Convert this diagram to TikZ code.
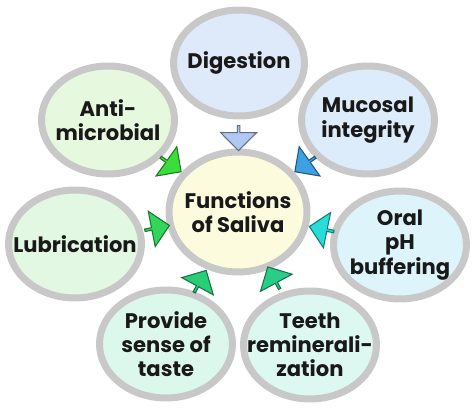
\documentclass[tikz,border=0pt]{standalone}
\usepackage{fontspec}
\setmainfont{Poppins}
\usepackage{xcolor}
\usetikzlibrary{shapes.geometric, shapes.arrows}
\definecolor{ringgray}{RGB}{200, 200, 200}
\definecolor{digestfill}{RGB}{222, 233, 250}
\definecolor{centerfill}{RGB}{253, 251, 222}
\definecolor{antifill}{RGB}{230, 248, 222}
\definecolor{mucosafill}{RGB}{220, 236, 250}
\definecolor{lubefill}{RGB}{226, 248, 226}
\definecolor{oralfill}{RGB}{220, 244, 250}
\definecolor{tastefill}{RGB}{220, 248, 236}
\definecolor{teethfill}{RGB}{220, 248, 240}
\definecolor{digestarrow}{RGB}{176, 200, 242}
\definecolor{antiarrow}{RGB}{60, 220, 60}
\definecolor{mucosaarrow}{RGB}{60, 160, 225}
\definecolor{lubearrow}{RGB}{50, 215, 90}
\definecolor{oralarrow}{RGB}{40, 220, 215}
\definecolor{tastearrow}{RGB}{40, 205, 120}
\definecolor{teetharrow}{RGB}{40, 205, 135}

\begin{document}
\begin{tikzpicture}[
  x=0.02cm, y=-0.02cm,
  bubbletext/.style={
    font=\fontsize{12}{13.8}\selectfont\bfseries,
    text=black!90,
    align=center,
    inner sep=0pt,
  },
  bubble/.style={
    ellipse,
    draw=ringgray,
    line width=0.14cm,
    minimum width=2.66cm,
    minimum height=2.16cm,
    inner sep=0pt,
    label={[bubbletext]center:#1},
  },
  flowarrow/.style={
    single arrow,
    draw=#1!55!black,
    fill=#1,
    line width=0.6pt,
    minimum height=0.5cm,
    minimum width=0.72cm,
    single arrow head extend=0.14cm,
    inner sep=0pt,
    sloped,
    allow upside down,
  }
]
  \useasboundingbox (0,0) rectangle (474,408);

  % Functions of Saliva
  \node[bubble={Functions\\of Saliva}, fill=centerfill, minimum width=2.76cm, minimum height=2.40cm] (saliva) at (238,212) {};

  % Digestion
  \node[bubble=Digestion, fill=digestfill, minimum width=2.62cm, minimum height=2.12cm] (digest) at (239,63) {};

  % Anti-microbial
  \node[bubble={Anti-\\microbial}, fill=antifill] (anti) at (108,120) {};

  % Mucosal integrity
  \node[bubble={Mucosal\\integrity}, fill=mucosafill] (mucosa) at (368,120) {};

  % Lubrication
  \node[bubble=Lubrication, fill=lubefill] (lube) at (75,244) {};

  % Oral pH buffering
  \node[bubble={Oral\\pH\\buffering}, fill=oralfill] (oral) at (400,245) {};

  % Provide sense of taste
  \node[bubble={Provide\\sense of\\taste}, fill=tastefill] (taste) at (166,344) {};

  % Teeth remineralization
  \node[bubble={Teeth\\reminerali-\\zation}, fill=teethfill] (teeth) at (310,345) {};

  % arrows
  \path (digest.center) -- (saliva.center) node[flowarrow=digestarrow, pos=0.5] (a-digest) {};
  \path (anti.center) -- (saliva.center) node[flowarrow=antiarrow, pos=0.48] (a-anti) {};
  \path (mucosa.center) -- (saliva.center) node[flowarrow=mucosaarrow, pos=0.48] (a-mucosa) {};
  \path (lube.center) -- (saliva.center) node[flowarrow=lubearrow, pos=0.5] (a-lube) {};
  \path (oral.center) -- (saliva.center) node[flowarrow=oralarrow, pos=0.48] (a-oral) {};
  \path (taste.center) -- (saliva.center) node[flowarrow=tastearrow, pos=0.47] (a-taste) {};
  \path (teeth.center) -- (saliva.center) node[flowarrow=teetharrow, pos=0.5] (a-teeth) {};

\end{tikzpicture}
\end{document}
